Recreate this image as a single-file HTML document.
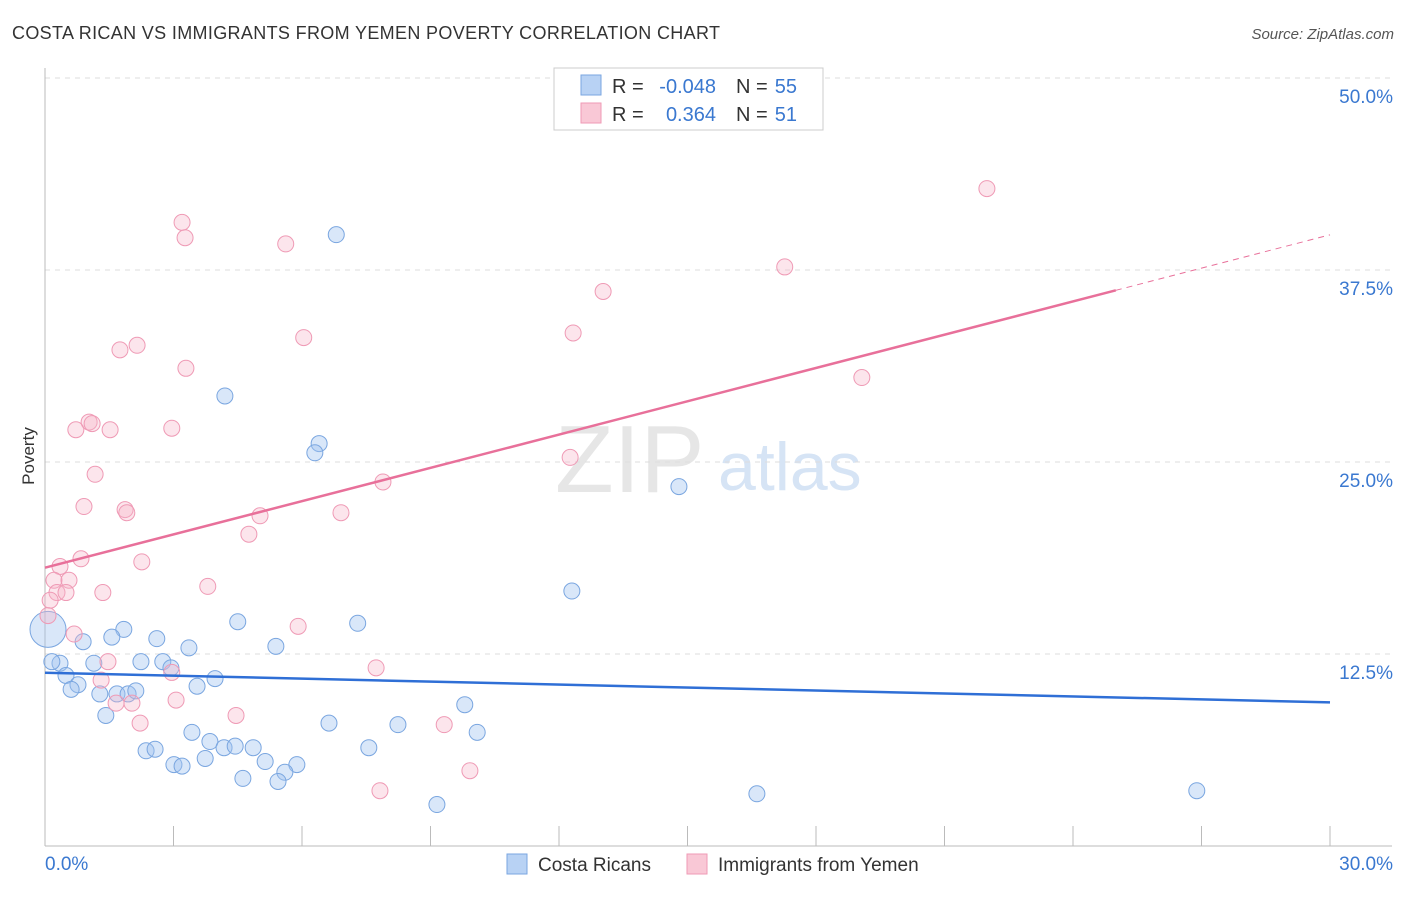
<!DOCTYPE html>
<html><head><meta charset="utf-8"><style>
body{margin:0;background:#fff;font-family:"Liberation Sans",sans-serif;}
svg text{font-family:"Liberation Sans",sans-serif;}
</style></head><body>
<svg id="chart" width="1406" height="892" xmlns="http://www.w3.org/2000/svg">
<text x="12" y="39" font-size="18" fill="#333" textLength="708">COSTA RICAN VS IMMIGRANTS FROM YEMEN POVERTY CORRELATION CHART</text>
<text x="1394" y="39" font-size="15" fill="#555" font-style="italic" text-anchor="end">Source: ZipAtlas.com</text>
<text x="555" y="492" font-size="96" fill="#e6e6e6" font-family="Liberation Serif">ZIP</text>
<text x="718" y="490" font-size="68" fill="#d6e4f5">atlas</text>
<g id="grid"></g><g id="axes"></g><g id="pts"></g><g id="trend"></g>
<text transform="translate(34,456) rotate(-90)" font-size="17" fill="#333" text-anchor="middle">Poverty</text>
<g font-size="20">
<rect x="554" y="68" width="269" height="62" fill="#fff" stroke="#ccc"/>
<rect x="581" y="75" width="20" height="20" fill="#b8d2f4" stroke="#7aa6e0"/>
<rect x="581" y="103" width="20" height="20" fill="#f9c8d6" stroke="#ef9ab5"/>
<text x="612" y="93" fill="#333">R =</text>
<text x="716" y="93" fill="#3a78d0" text-anchor="end">-0.048</text>
<text x="736" y="93" fill="#333">N =</text>
<text x="797" y="93" fill="#3a78d0" text-anchor="end">55</text>
<text x="612" y="121" fill="#333">R =</text>
<text x="716" y="121" fill="#3a78d0" text-anchor="end">0.364</text>
<text x="736" y="121" fill="#333">N =</text>
<text x="797" y="121" fill="#3a78d0" text-anchor="end">51</text>
</g>
<g>
<rect x="507" y="854" width="20" height="20" fill="#b8d2f4" stroke="#7aa6e0"/>
<text x="538" y="871" font-size="19" fill="#333">Costa Ricans</text>
<rect x="687" y="854" width="20" height="20" fill="#f9c8d6" stroke="#ef9ab5"/>
<text x="718" y="871" font-size="19" fill="#333">Immigrants from Yemen</text>
</g>
</svg>
<script>
const xTicks=[0,30];
const yTicks=[12.5,25,37.5,50];
const blueX=[6.8,4.2,6.4,6.3,14.8,12.3,4.5,7.3,1.84,2.61,0.89,1.56,3.36,5.39,0.07,0.35,0.16,1.14,2.24,2.75,2.94,0.49,3.97,0.77,0.61,3.55,1.28,1.68,1.94,2.12,9.8,1.42,3.43,6.63,8.24,10.09,3.85,4.18,4.44,4.86,2.36,2.57,7.56,3.74,3.01,3.2,5.14,5.88,5.6,4.62,5.44,9.15,16.62,26.89];
const blueY=[39.8,29.3,26.2,25.6,23.4,16.6,14.6,14.5,14.1,13.5,13.3,13.6,12.9,13.0,14.1,11.9,12.0,11.9,12.0,12.0,11.6,11.1,10.9,10.5,10.2,10.4,9.9,9.9,9.9,10.1,9.2,8.5,7.4,8.0,7.9,7.4,6.8,6.4,6.5,6.4,6.2,6.3,6.4,5.7,5.3,5.2,5.5,5.3,4.8,4.4,4.2,2.7,3.4,3.6];
const pinkX=[21.99,3.2,3.27,5.62,17.27,13.03,12.33,6.04,2.15,1.75,3.29,19.07,1.03,1.1,0.72,1.52,2.96,1.17,12.26,7.89,0.91,1.87,1.91,6.91,5.02,4.76,2.26,0.84,0.35,0.21,0.56,0.28,0.49,1.35,3.8,0.12,0.07,5.91,0.68,1.47,2.96,7.73,1.31,1.66,2.03,3.06,4.46,2.22,9.32,9.92,7.82];
const pinkY=[42.8,40.6,39.6,39.2,37.7,36.1,33.4,33.1,32.6,32.3,31.1,30.5,27.6,27.5,27.1,27.1,27.2,24.2,25.3,23.7,22.1,21.9,21.7,21.7,21.5,20.3,18.5,18.7,18.2,17.3,17.3,16.5,16.5,16.5,16.9,16.0,15.0,14.3,13.8,12.0,11.3,11.6,10.8,9.3,9.3,9.5,8.5,8.0,7.9,4.9,3.6];
const NS='http://www.w3.org/2000/svg';
const X=v=>45+v/30*1285, Y=v=>846-v/50*768;
function mk(t,a,p){const e=document.createElementNS(NS,t);for(const k in a)e.setAttribute(k,a[k]);document.getElementById(p).appendChild(e);return e;}
yTicks.forEach(v=>{
 const l=mk('line',{x1:45,x2:1392,y1:Y(v),y2:Y(v),stroke:'#ddd','stroke-dasharray':'5,5'},'grid');
 
 
 const t=mk('text',{x:1393,y:Y(v)+25,'font-size':19,fill:'#3a78d0','text-anchor':'end'},'grid');
 t.textContent=v.toFixed(1)+'%';
 
 
});
let a=mk('line',{x1:45,x2:45,y1:68,y2:846,stroke:'#bbb'},'axes');

a=mk('line',{x1:45,x2:1392,y1:846,y2:846,stroke:'#bbb'},'axes');

for(let i=0;i<=10;i++){const t=mk('line',{x1:X(i*3),x2:X(i*3),y1:826,y2:846,stroke:'#bbb'},'axes');
 }
xTicks.forEach((v,i)=>{const t=mk('text',{x:i?1393:45,y:870,'font-size':19,fill:'#3a78d0','text-anchor':i?'end':'start'},'axes');
 t.textContent=v.toFixed(1)+'%';
 });
blueX.forEach((v,i)=>{const c=mk('circle',{cx:X(v),cy:Y(blueY[i]),r:i==14?18:8,fill:'rgba(160,196,240,0.4)',stroke:'#7aa6e0','stroke-width':1},'pts');
 });
pinkX.forEach((v,i)=>{const c=mk('circle',{cx:X(v),cy:Y(pinkY[i]),r:8,fill:'rgba(246,180,200,0.35)',stroke:'#ef9ab5','stroke-width':1},'pts');
 });
function fit(xs,ys){const n=xs.length,mx=xs.reduce((a,b)=>a+b)/n,my=ys.reduce((a,b)=>a+b)/n;let sxy=0,sxx=0;xs.forEach((x,i)=>{sxy+=(x-mx)*(ys[i]-my);sxx+=(x-mx)**2});const b=sxy/sxx;return [my-b*mx,b];}
let [a0,b0]=fit(blueX,blueY);
let l=mk('line',{x1:X(0),y1:Y(a0),x2:X(30),y2:Y(a0+b0*30),stroke:'#2f6fd6','stroke-width':2.5},'trend');

let [a1,b1]=fit(pinkX,pinkY);
l=mk('line',{x1:X(0),y1:Y(a1),x2:X(25),y2:Y(a1+b1*25),stroke:'#e8709a','stroke-width':2.5},'trend');

l=mk('line',{x1:X(25),y1:Y(a1+b1*25),x2:X(30),y2:Y(a1+b1*30),stroke:'#e8709a','stroke-width':1,'stroke-dasharray':'6,5'},'trend');

</script>
</body></html>
